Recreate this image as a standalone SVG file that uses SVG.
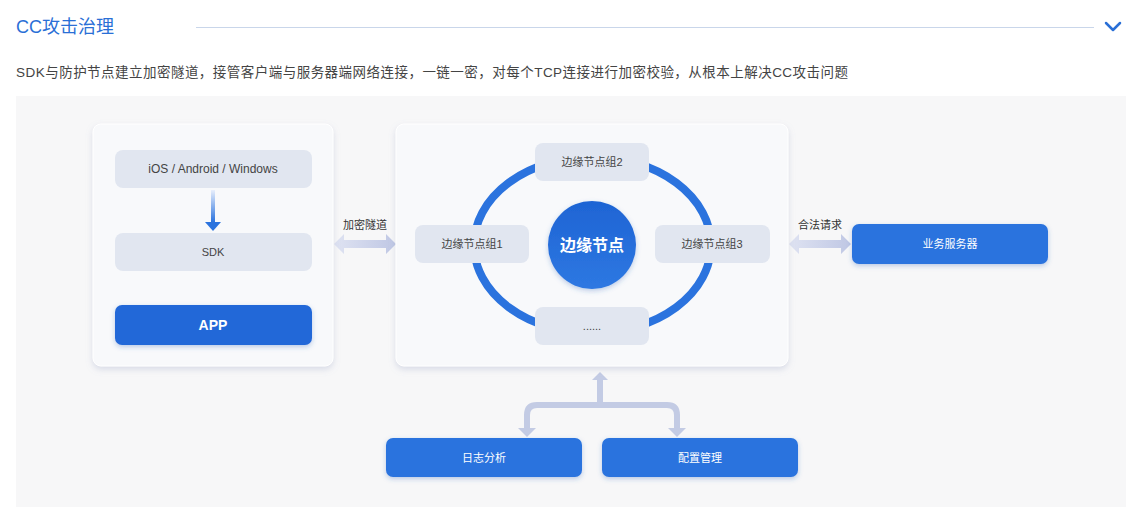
<svg xmlns="http://www.w3.org/2000/svg" width="1138" height="521" viewBox="0 0 1138 521">
<defs>
<style>
.t{font-family:"Liberation Sans","Noto Sans CJK SC",sans-serif}
.gbox{fill:#e1e6f0}
.gtxt{font-size:11px;fill:#444;text-anchor:middle;font-family:"Liberation Sans","Noto Sans CJK SC",sans-serif}
.bbox{fill:#2b73de}
.btxt{font-size:11px;fill:#fff;text-anchor:middle;font-family:"Liberation Sans","Noto Sans CJK SC",sans-serif}
.card{fill:#f8f9fb}
.conn{fill:none;stroke:#c3cbe4;stroke-width:6}
.lbl{font-size:11px;fill:#333;text-anchor:middle;font-family:"Liberation Sans","Noto Sans CJK SC",sans-serif}
</style>
<filter id="sh" x="-10%" y="-10%" width="120%" height="130%">
<feDropShadow dx="0" dy="3" stdDeviation="3" flood-color="#8f9bbf" flood-opacity="0.3"/>
</filter>
<filter id="sh2" x="-20%" y="-20%" width="140%" height="160%">
<feDropShadow dx="0" dy="2" stdDeviation="2.5" flood-color="#2b5fb8" flood-opacity="0.3"/>
</filter>
<linearGradient id="darr" x1="0" y1="0" x2="0" y2="1">
<stop offset="0" stop-color="#e8effc"/>
<stop offset="1" stop-color="#2b73de"/>
</linearGradient>
<linearGradient id="circ" x1="0" y1="0" x2="0" y2="1">
<stop offset="0" stop-color="#1e64d4"/>
<stop offset="1" stop-color="#2e78e2"/>
</linearGradient>
<linearGradient id="harr" x1="0" y1="0" x2="1" y2="0">
<stop offset="0" stop-color="#dfe3f2"/>
<stop offset="1" stop-color="#bfc7e4"/>
</linearGradient>
</defs>
<rect width="1138" height="521" fill="#ffffff"/>
<g id="header">
<text x="16" y="33" class="t" font-size="18" fill="#2a6fd6">CC攻击治理</text>
<line x1="196" y1="27.5" x2="1094" y2="27.5" stroke="#c9d6ea" stroke-width="1"/>
<path d="M1106 23 L1113 30 L1120 23" fill="none" stroke="#2a6fd6" stroke-width="2.5" stroke-linecap="round" stroke-linejoin="round"/>
<text x="16" y="77" class="t" font-size="13.5" fill="#444" textLength="832" lengthAdjust="spacing">SDK与防护节点建立加密隧道，接管客户端与服务器端网络连接，一链一密，对每个TCP连接进行加密校验，从根本上解决CC攻击问题</text>
</g>
<rect x="16" y="96" width="1110" height="411" fill="#f7f7f8"/>
<g id="connectors">
<path d="M334 244 L344 234 L344 240 L386 240 L386 234 L396 244 L386 254 L386 248 L344 248 L344 254 Z" fill="url(#harr)"/>
<path d="M789 244 L799 234 L799 240 L841 240 L841 234 L851 244 L841 254 L841 248 L799 248 L799 254 Z" fill="url(#harr)"/>
<path d="M600 380 L600 405 M527 430 L527 415 Q527 405 537 405 L667 405 Q677 405 677 415 L677 430" class="conn"/>
<path d="M600 372 L608 380 L592 380 Z" fill="#c3cbe4"/>
<path d="M527 437 L518 428 L536 428 Z" fill="#c3cbe4"/>
<path d="M677 437 L668 428 L686 428 Z" fill="#c3cbe4"/>
</g>
<g id="client-card">
<rect x="93" y="124" width="240" height="242" rx="8" class="card" filter="url(#sh)" stroke="#ffffff" stroke-width="1"/>
</g>
<g id="ios">
<rect x="115" y="150" width="197" height="38" rx="8" class="gbox"/>
<text x="213" y="173" class="gtxt" style="font-size:12px">iOS / Android / Windows</text>
</g>
<g id="arrow-down">
<rect x="211" y="190" width="4" height="32" fill="url(#darr)"/>
<path d="M205 222 L221 222 L213 231 Z" fill="#2b73de"/>
</g>
<g id="sdk">
<rect x="115" y="233" width="197" height="38" rx="8" class="gbox"/>
<text x="213" y="256" class="gtxt">SDK</text>
</g>
<g id="app">
<rect x="115" y="305" width="197" height="40" rx="7" fill="#2268d8" filter="url(#sh2)"/>
<text x="213" y="330" class="t" font-size="14" font-weight="bold" fill="#fff" text-anchor="middle">APP</text>
</g>
<g id="edge-card">
<rect x="396" y="124" width="392" height="242" rx="8" class="card" filter="url(#sh)" stroke="#ffffff" stroke-width="1"/>
<ellipse cx="592.5" cy="245" rx="118.5" ry="88" fill="none" stroke="#2b73de" stroke-width="8"/>
</g>
<g id="group2">
<rect x="535" y="143" width="114" height="38" rx="8" class="gbox"/>
<text x="592" y="166" class="gtxt">边缘节点组2</text>
</g>
<g id="group1">
<rect x="415" y="225" width="114" height="38" rx="8" class="gbox"/>
<text x="472" y="248" class="gtxt">边缘节点组1</text>
</g>
<g id="group3">
<rect x="655" y="225" width="115" height="38" rx="8" class="gbox"/>
<text x="712" y="248" class="gtxt">边缘节点组3</text>
</g>
<g id="group4">
<rect x="535" y="307" width="114" height="38" rx="8" class="gbox"/>
<text x="592" y="330" class="gtxt">......</text>
</g>
<g id="edge-node">
<circle cx="592" cy="245" r="44" fill="url(#circ)" filter="url(#sh2)"/>
<text x="592" y="251" class="t" font-size="16" font-weight="bold" fill="#fff" text-anchor="middle">边缘节点</text>
</g>
<g id="labels">
<text x="365" y="229" class="lbl">加密隧道</text>
<text x="820" y="229" class="lbl">合法请求</text>
</g>
<g id="server">
<rect x="852" y="224" width="196" height="40" rx="7" class="bbox" filter="url(#sh2)"/>
<text x="950" y="248" class="btxt">业务服务器</text>
</g>
<g id="log">
<rect x="386" y="438" width="196" height="39" rx="7" class="bbox" filter="url(#sh2)"/>
<text x="484" y="462" class="btxt">日志分析</text>
</g>
<g id="config">
<rect x="602" y="438" width="196" height="39" rx="7" class="bbox" filter="url(#sh2)"/>
<text x="700" y="462" class="btxt">配置管理</text>
</g>
</svg>
